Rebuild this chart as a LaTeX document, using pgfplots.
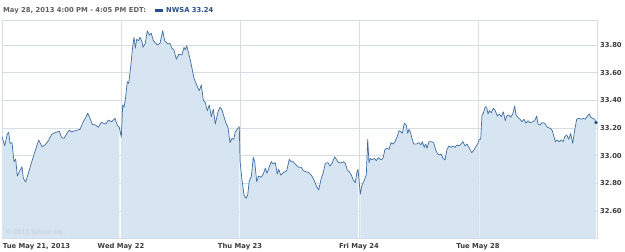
\documentclass[border=0pt]{standalone}
\usepackage{pgfplots}
\pgfplotsset{compat=1.18}
\usepackage{pgfplotstable}
\usepackage{fontspec}
\setmainfont{DejaVu Sans}
\definecolor{gridc}{RGB}{213,222,231}
\definecolor{linec}{RGB}{64,110,162}
\definecolor{fillc}{RGB}{214,229,241}
\definecolor{labc}{RGB}{60,60,60}
\definecolor{headc}{RGB}{95,95,95}
\definecolor{bluet}{RGB}{38,78,138}
\definecolor{copyc}{RGB}{188,204,218}

\pgfplotstableread{
x y
0 33.138
2.7 33.073
5.3 33.157
6.7 33.170
8 33.090
10 33.095
12 32.957
13.7 32.977
15.3 32.854
17.3 32.885
20 32.921
21.3 32.838
23.7 32.811
27.3 32.897
31.3 32.993
36.7 33.114
40 33.066
43 33.078
46.3 33.109
49.7 33.155
53 33.167
57.3 33.177
59.7 33.131
62 33.126
64.7 33.157
67.3 33.186
69.7 33.172
73 33.181
78 33.191
81.3 33.246
83.3 33.271
85.7 33.307
88 33.271
90.3 33.227
93.7 33.222
96.3 33.206
99.3 33.242
101.3 33.235
104 33.230
106.3 33.258
109.7 33.246
113 33.271
115.3 33.222
117.3 33.206
119.3 33.134
120.7 33.367
122 33.350
123.3 33.403
125.3 33.535
126.7 33.523
128.7 33.643
130.7 33.788
132 33.856
133.3 33.776
134.7 33.841
136.7 33.831
138 33.856
140 33.824
141 33.783
143.3 33.812
145.3 33.903
147.3 33.872
149.3 33.884
151.3 33.831
155.3 33.800
158 33.812
160.7 33.903
162.7 33.831
166 33.807
168 33.812
170 33.776
172 33.764
174.3 33.697
176.7 33.733
180 33.728
182 33.783
183.3 33.764
184.7 33.795
186.7 33.740
188.7 33.679
192 33.560
195.3 33.499
197.3 33.470
199.3 33.511
201.3 33.403
203.3 33.383
205.3 33.326
207.3 33.367
209.3 33.282
211.3 33.336
213.3 33.230
216 33.318
218 33.350
220 33.331
222 33.282
224 33.235
226 33.206
228 33.095
230 33.126
231.7 33.119
233.3 33.174
235.3 33.191
237.3 33.210
238 32.965
240 32.825
242 32.717
244 32.693
245.7 32.717
247.3 32.820
249.3 32.849
251.3 32.989
252.7 32.957
254.7 32.813
256.7 32.854
259.3 32.845
261.3 32.869
263.3 32.910
265 32.874
267.3 32.921
269.3 32.957
271.3 32.941
273.3 32.950
275.3 32.869
276.7 32.903
278.7 32.861
281.3 32.878
284.7 32.892
287.3 32.975
289.3 32.957
291.3 32.957
294 32.934
296.7 32.917
299.3 32.917
301.3 32.892
304 32.885
306.7 32.878
309.3 32.861
312 32.825
314.7 32.777
316.7 32.753
319.3 32.838
321.3 32.878
323.3 32.946
326 32.950
328 32.926
330 32.946
332.7 32.993
334.7 32.970
336.7 32.950
339.3 32.950
341.3 32.957
343.3 32.946
345.3 32.897
347.3 32.885
349.3 32.861
351.3 32.825
353.3 32.806
354.7 32.874
356 32.903
358.3 32.722
359.7 32.782
362.3 32.825
364.3 32.861
365.7 33.119
367 32.950
368.3 32.982
370.3 32.970
372.3 32.982
374.3 32.965
376.3 32.986
379 32.970
381 32.982
383 33.047
385 33.054
387 33.047
389 33.095
391 33.085
393 33.102
395 33.134
397 33.181
399 33.174
400.3 33.162
402.3 33.235
404.3 33.222
405.7 33.162
407 33.191
408.3 33.174
409.7 33.134
411.7 33.085
414.3 33.085
417 33.095
419 33.078
420.3 33.102
422.3 33.061
423.7 33.085
425 33.054
427 33.102
429.7 33.102
431.7 33.095
433.7 33.042
435.7 33.013
437.7 33.006
439 33.013
441 32.982
443 32.970
445 33.047
447 33.071
449 33.061
451 33.071
453 33.061
455 33.078
457 33.071
459 33.085
461 33.102
463 33.071
465 33.085
467 33.061
469.7 33.022
472.3 33.047
474.3 33.071
476.3 33.095
477.3 33.119
478.7 33.119
480 33.295
481.3 33.307
483.3 33.355
484.7 33.350
486 33.302
487.3 33.326
489.3 33.311
491.3 33.343
493.3 33.326
495.3 33.287
497.3 33.302
499.3 33.282
501.3 33.318
503.3 33.253
504.7 33.287
506.7 33.295
508.7 33.278
510.7 33.302
512.7 33.360
514 33.295
516 33.278
518 33.264
520 33.246
522 33.264
524 33.235
526 33.253
528 33.239
530.7 33.246
532.7 33.253
534.7 33.287
536 33.230
538 33.222
540 33.239
542.7 33.235
545.3 33.206
548 33.199
550 33.186
551.3 33.157
553.3 33.102
555.3 33.114
557.3 33.102
559.3 33.114
561.3 33.102
562.7 33.138
564.7 33.150
566.7 33.119
568.7 33.162
570.7 33.090
572.7 33.186
574.7 33.264
576.7 33.271
579.3 33.264
581.3 33.271
583.3 33.264
585.3 33.287
587.3 33.302
588.7 33.278
590.7 33.271
592.7 33.264
594 33.240
}\pricedata

\begin{document}
\begin{tikzpicture}
\path[use as bounding box] (0,0) rectangle (625pt,252pt);
\begin{axis}[
  at={(2pt,14pt)}, anchor=south west,
  scale only axis, width=595pt, height=218pt,
  xmin=0, xmax=595, ymin=32.4065, ymax=33.9805,
  xtick={119,238,357,476},
  xticklabels={Wed May 22,Thu May 23,Fri May 24,Tue May 28},
  extra x ticks={0},
  extra x tick labels={Tue May 21{,} 2013},
  extra x tick style={xticklabel style={anchor=base west, xshift=0.8pt}},
  ytick={32.6,32.8,33.0,33.2,33.4,33.6,33.8},
  yticklabels={32.60,32.80,33.00,33.20,33.40,33.60,33.80},
  yticklabel pos=right,
  grid=major,
  major grid style={gridc, line width=0.8pt},
  axis line style={gridc, line width=0.8pt},
  tick style={draw=none},
  ticklabel style={font=\fontsize{6.8}{8}\selectfont\bfseries, text=labc, inner sep=0pt},
  xticklabel style={anchor=base, yshift=-10.7pt},
  yticklabel style={anchor=west, xshift=3pt},
  /pgf/number format/assume math mode=true,
  clip=true,
]
\addplot[draw=none, fill=fillc, restrict x to domain=0:118] table[x=x,y=y]{\pricedata} \closedcycle;
\addplot[draw=none, fill=fillc, restrict x to domain=119:237.6] table[x=x,y=y]{\pricedata} \closedcycle;
\addplot[draw=none, fill=fillc, restrict x to domain=237.9:357] table[x=x,y=y]{\pricedata} \closedcycle;
\addplot[draw=none, fill=fillc, restrict x to domain=358:476.5] table[x=x,y=y]{\pricedata} \closedcycle;
\addplot[draw=none, fill=fillc, restrict x to domain=477:600] table[x=x,y=y]{\pricedata} \closedcycle;
\addplot[linec, line width=0.7pt, line join=round] table[x=x,y=y]{\pricedata};
\addplot[only marks, mark=*, mark size=1.5pt, color=bluet] coordinates {(594,33.240)};
\end{axis}
\node[anchor=base west, inner sep=0pt, font=\fontsize{6.8}{8}\selectfont\bfseries, text=headc] at (3pt,239.3pt) {May 28, 2013 4:00 PM - 4:05 PM EDT:};
\fill[bluet] (155pt,240.3pt) rectangle (163pt,242.8pt);
\node[anchor=base west, inner sep=0pt, font=\fontsize{6.8}{8}\selectfont\bfseries, text=bluet] at (166pt,239.3pt) {NWSA 33.24};
\node[anchor=west, inner sep=0pt, font=\fontsize{6.2}{7}\selectfont, text=copyc] at (5pt,19.5pt) {© 2013 Yahoo! Inc.};
\end{tikzpicture}
\end{document}
